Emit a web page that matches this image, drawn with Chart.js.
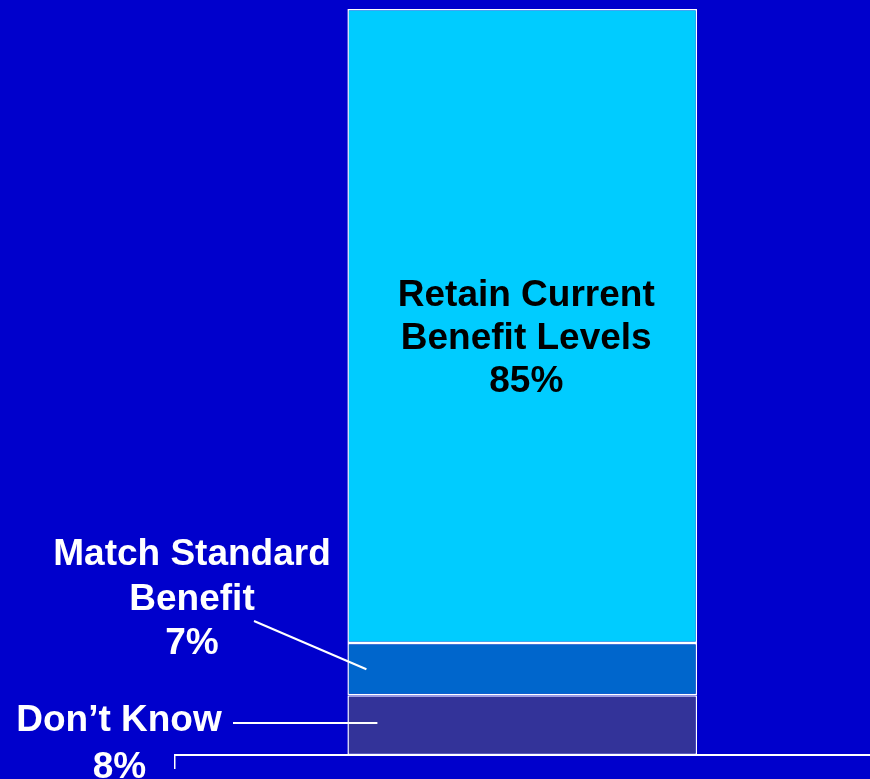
<!DOCTYPE html>
<html>
<head>
    <title>Benefit Preference</title>
    <script src="https://cdn.jsdelivr.net/npm/chart.js"></script>
    <style>
        html, body { margin: 0; padding: 0; background: #0000CC; overflow: hidden; }
        #wrap { width: 870px; height: 779px; }
    </style>
</head>
<body>

<div id="wrap"><canvas id="chart"></canvas></div>

<script>

/* DATA */
const categories = ["All respondents"];
const segmentNames = ["Don’t Know", "Match Standard Benefit", "Retain Current Benefit Levels"];
const segmentValues = [8, 7, 85];
const segmentLabelLines = [
    ["Don’t Know"],
    ["Match Standard", "Benefit"],
    ["Retain Current", "Benefit Levels"]
];
const segmentColors = ["#333399", "#0066CC", "#00CCFF"];

const FONT = "bold 37px 'Liberation Sans', Arial, sans-serif";

/* LABELS + LEADER LINES */
const labelPlugin = {
    id: "segmentLabels",
    afterDatasetsDraw(chart) {
        const ctx = chart.ctx;
        const bars = segmentValues.map((v, i) => chart.getDatasetMeta(i).data[0]);
        ctx.save();
        ctx.font = FONT;
        ctx.textAlign = "center";
        ctx.textBaseline = "alphabetic";

        // big segment: text inside the bar
        const top = bars[2];
        const cx = top.x + 4;
        const cy = (top.y + top.base) / 2;
        const lines = segmentLabelLines[2].concat([segmentValues[2] + "%"]);
        ctx.fillStyle = "#000000";
        lines.forEach((t, k) => ctx.fillText(t, cx, cy - 20 + k * 43));

        ctx.fillStyle = "#FFFFFF";
        ctx.strokeStyle = "#FFFFFF";
        ctx.lineWidth = 2;

        // middle segment: callout on the left
        const mid = bars[1];
        const midLeft = mid.x - mid.width / 2;
        const midLines = segmentLabelLines[1].concat([segmentValues[1] + "%"]);
        midLines.forEach((t, k) => ctx.fillText(t, 192, 565 + k * 44.5));
        ctx.beginPath();
        ctx.moveTo(254, 621);
        ctx.lineTo(midLeft + 19, (mid.y + mid.base) / 2);
        ctx.stroke();

        // bottom segment: callout on the left
        const low = bars[0];
        const lowLeft = low.x - low.width / 2;
        ctx.fillText(segmentLabelLines[0][0], 119, 731);
        ctx.fillText(segmentValues[0] + "%", 119.5, 778);
        ctx.beginPath();
        ctx.moveTo(233, 723);
        ctx.lineTo(lowLeft + 30, 723);
        ctx.stroke();

        ctx.restore();
    }
};

new Chart(document.getElementById("chart"), {
    type: "bar",
    data: {
        labels: categories,
        datasets: segmentNames.map((name, i) => ({
            label: name,
            data: [segmentValues[i]],
            backgroundColor: segmentColors[i],
            borderColor: "#FFFFFF",
            borderWidth: 1.5,
            borderSkipped: false,
            barPercentage: 0.5028,
            categoryPercentage: 1
        }))
    },
    options: {
        responsive: true,
        maintainAspectRatio: false,
        animation: false,
        events: [],
        layout: { padding: { left: 174.5, right: 0, top: 9, bottom: 10 } },
        plugins: {
            legend: { display: false },
            tooltip: { enabled: false }
        },
        scales: {
            x: {
                stacked: true,
                ticks: { display: false },
                grid: {
                    drawOnChartArea: false,
                    drawTicks: true,
                    tickLength: 14,
                    // only the left end of the baseline gets a tick
                    color: c => c.index === 0 ? "#FFFFFF" : "rgba(0,0,0,0)",
                    lineWidth: 1.5
                },
                border: { display: true, color: "#FFFFFF", width: 2 }
            },
            y: {
                stacked: true,
                display: false,
                min: 0,
                max: 100
            }
        }
    },
    plugins: [labelPlugin]
});

</script>

</body>
</html>
